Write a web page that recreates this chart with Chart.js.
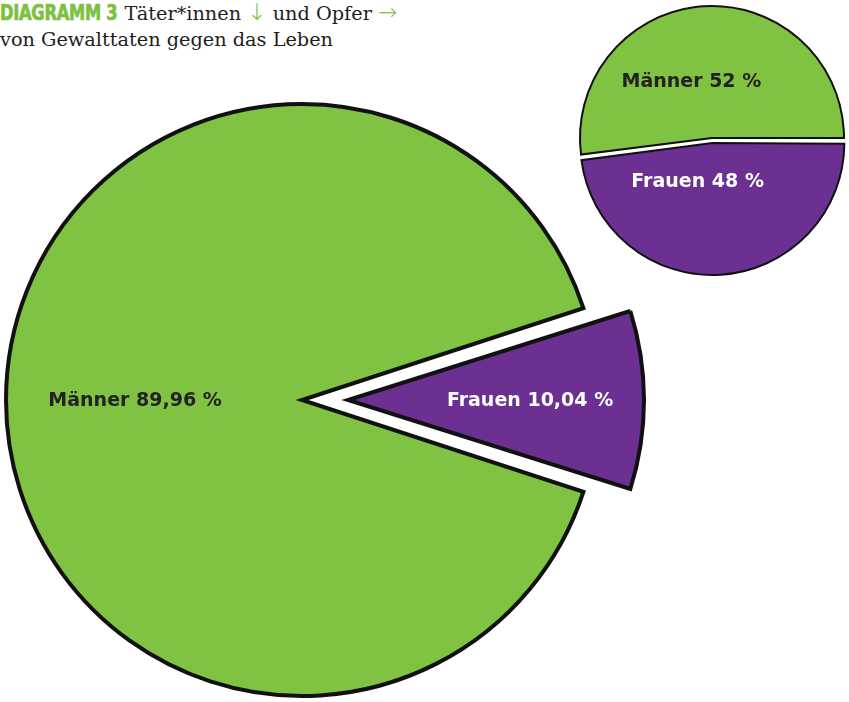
<!DOCTYPE html>
<html>
<head>
<meta charset="utf-8">
<script src="https://cdn.jsdelivr.net/npm/chart.js@4"></script>
<style>
  body { margin: 0; background: #fff; width: 849px; height: 702px; overflow: hidden; position: relative; }
  #titel { position: absolute; left: 0; top: 1px; font: 19.3px 'DejaVu Serif'; line-height: 26px; color: #1e1e1e; white-space: nowrap; }
  #titel .nr { display: inline-block; font: bold 21px 'DejaVu Sans Condensed', 'DejaVu Sans'; color: #7dc142;
               -webkit-text-stroke: 0.7px #7dc142; transform: scaleX(0.86); transform-origin: left; margin-right: -18px; letter-spacing: -0.3px; }
  #titel .pfeil { color: #7dc142; font-family: 'DejaVu Sans'; font-weight: 200; font-size: 23px; line-height: 20px; }
  #taeter { position: absolute; left: 0; top: 0; }
  #opfer { position: absolute; left: 570px; top: -2px; }
</style>
</head>
<body>
<div id="titel"><span class="nr">DIAGRAMM 3</span> Täter*innen <span class="pfeil">↓</span> und Opfer <span class="pfeil">→</span><br>von Gewalttaten gegen das Leben</div>
<canvas id="taeter" width="849" height="702"></canvas>
<canvas id="opfer" width="279" height="285"></canvas>
<script>
// Daten
const kategorien = ['Männer', 'Frauen'];
const taeterAnteile = [89.96, 10.04];
const opferAnteile = [52, 48];

const gruen = '#80c242';
const lila = '#6c3092';

// 89,96 statt 89.96
function fmt(v) {
  return String(v).replace('.', ',');
}

// Chart.js macht herausgezogene Stücke etwas größer, das wieder zurücknehmen
// und spitze Ecken ohne Ausreißer zeichnen
const radiusKorrektur = {
  id: 'radiusKorrektur',
  beforeDatasetsDraw(chart) {
    chart.ctx.miterLimit = 4;
    const meta = chart.getDatasetMeta(0);
    const basis = meta.controller.outerRadius;
    meta.data.forEach(arc => {
      const off = (arc.options.offset || 0) / 4;
      const fix = 1 - Math.sin(Math.min(Math.PI, arc.circumference));
      arc.outerRadius = basis - off * fix;
    });
  }
};

// Beschriftung in die Tortenstücke schreiben
const etiketten = {
  id: 'etiketten',
  afterDatasetsDraw(chart, args, opts) {
    const ctx = chart.ctx;
    const ds = chart.data.datasets[0];
    const basis = chart.getDatasetMeta(0).controller.outerRadius;
    chart.getDatasetMeta(0).data.forEach((arc, i) => {
      const mitte = (arc.startAngle + arc.endAngle) / 2;
      const off = (arc.options.offset || 0) / 4;
      const r = opts.abstand[i] * basis + off;
      const x = arc.x + Math.cos(mitte) * r + (opts.dx || 0);
      const y = arc.y + Math.sin(mitte) * r + (opts.dy || 0);
      ctx.save();
      ctx.font = 'bold 19px "DejaVu Sans"';
      ctx.fillStyle = opts.farben[i];
      ctx.textAlign = 'center';
      ctx.textBaseline = 'middle';
      ctx.fillText(chart.data.labels[i] + ' ' + fmt(ds.data[i]) + ' %', x, y);
      ctx.restore();
    });
  }
};

// Täter*innen (groß, links)
new Chart(document.getElementById('taeter'), {
  type: 'pie',
  data: {
    labels: kategorien,
    datasets: [{
      data: taeterAnteile,
      backgroundColor: [gruen, lila],
      borderColor: '#111',
      borderWidth: 4,
      borderJoinStyle: 'miter',
      offset: [0, 184], // wird von Chart.js geviertelt
      hoverOffset: 0
    }]
  },
  options: {
    responsive: false,
    animation: false,
    devicePixelRatio: 1,
    radius: 296,
    rotation: 108.07, // Frauen-Stück zeigt nach rechts
    layout: { padding: { left: 0, right: 245, top: 98, bottom: 0 } },
    plugins: {
      legend: { display: false },
      tooltip: { enabled: false },
      etiketten: { abstand: [0.564, 0.615], farben: ['#222', '#fff'], dy: 1 }
    }
  },
  plugins: [radiusKorrektur, etiketten]
});

// Opfer (klein, rechts oben)
new Chart(document.getElementById('opfer'), {
  type: 'pie',
  data: {
    labels: kategorien,
    datasets: [{
      data: opferAnteile,
      backgroundColor: [gruen, lila],
      borderColor: '#111',
      borderWidth: 2,
      borderJoinStyle: 'miter',
      offset: [0, 20],
      hoverOffset: 0
    }]
  },
  options: {
    responsive: false,
    animation: false,
    devicePixelRatio: 1,
    radius: 132,
    rotation: 262.8, // Frauen beginnt bei 3 Uhr
    layout: { padding: { left: 5, right: 0, top: 0, bottom: 5 } },
    plugins: {
      legend: { display: false },
      tooltip: { enabled: false },
      etiketten: { abstand: [0.44, 0.28], farben: ['#222', '#fff'], dx: -17, dy: 2 }
    }
  },
  plugins: [radiusKorrektur, etiketten]
});
</script>
</body>
</html>
